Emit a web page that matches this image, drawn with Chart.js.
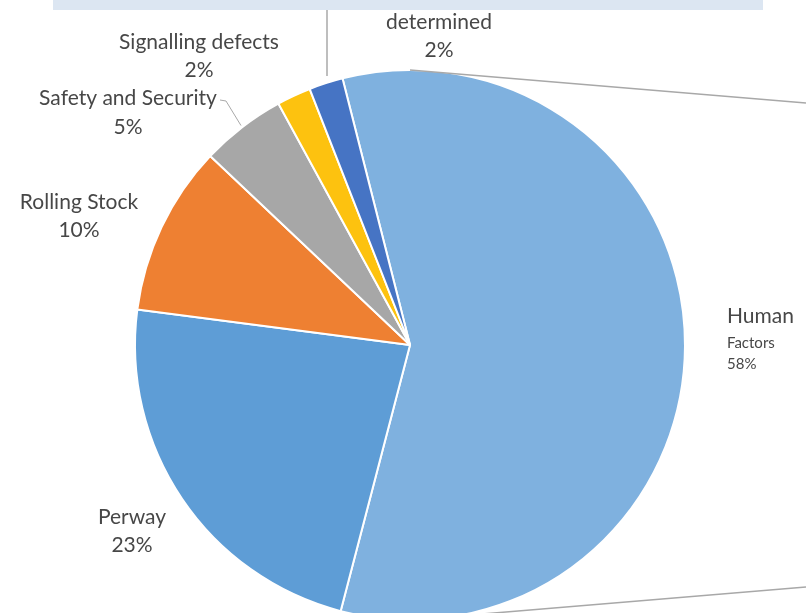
<!DOCTYPE html>
<html>
<head>
<meta charset="utf-8">
<title>Causes of incidents</title>
<script src="https://cdn.jsdelivr.net/npm/chart.js@4.4.1/dist/chart.umd.min.js"></script>
<style>
    html, body { margin: 0; padding: 0; background: #fff; overflow: hidden; }
    #wrap { position: relative; width: 806px; height: 613px; overflow: hidden; }
    #band { position: absolute; left: 53px; top: 0; width: 710px; height: 10px; background: #dce6f2; }
    #causeChart { position: absolute; left: 0; top: 0; }
</style>
</head>
<body>
<div id="wrap">
    <canvas id="causeChart" width="806" height="690"></canvas>
    <div id="band"></div>
</div>
<script>
// shares of incidents by cause (%)
const categories = ['Human Factors', 'Perway', 'Rolling Stock', 'Safety and Security', 'Signalling defects', 'Not determined'];
const shares = [58, 23, 10, 5, 2, 2];
const labelLines = [['Human', 'Factors'], ['Perway'], ['Rolling Stock'], ['Safety and Security'], ['Signalling defects'], ['determined']];

const sliceColors = ['#7fb1df', '#5e9dd6', '#ee8032', '#a7a7a7', '#fdc20f', '#4674c4'];
const textColor = '#474747';
const lineColor = '#a8a8a8';

// where each data label sits; rows are [offset y, font size]
const labelLayout = [
    { x: 727, y: 316, align: 'left', rows: [[0, 21], [27, 15], [48, 15]] },
    { x: 132, y: 517, align: 'center', rows: [[0, 21], [28, 21]] },
    { x: 79, y: 202, align: 'center', rows: [[0, 21], [28, 21]] },
    { x: 128, y: 98, align: 'center', rows: [[0, 21], [29, 21]] },
    { x: 199, y: 42, align: 'center', rows: [[0, 21], [28, 21]] },
    { x: 439, y: 22, align: 'center', rows: [[0, 21], [28, 21]] }
];

const pieExtras = {
    id: 'pieExtras',
    afterDraw(chart) {
        const ctx = chart.ctx;
        const arcs = chart.getDatasetMeta(0).data;
        if (!arcs.length) return;
        const cx = arcs[0].x, cy = arcs[0].y, r = arcs[0].outerRadius;
        const right = chart.width;

        ctx.save();
        ctx.strokeStyle = lineColor;
        ctx.lineWidth = 1.5;

        // connector lines leaving the pie towards the right
        ctx.beginPath();
        ctx.moveTo(cx, cy - r);
        ctx.lineTo(right, cy - 0.88 * r);
        ctx.moveTo(cx, cy + r);
        ctx.lineTo(right, cy + 0.88 * r);
        ctx.stroke();

        // thin rule down from the header band
        ctx.beginPath();
        ctx.moveTo(cx - 83, 10);
        ctx.lineTo(cx - 83, cy - r + 6);
        ctx.stroke();

        // leader for the safety label
        const safety = arcs[3];
        const mid = (safety.startAngle + safety.endAngle) / 2;
        ctx.lineWidth = 1;
        ctx.beginPath();
        ctx.moveTo(220, 100);
        ctx.lineTo(226, 101);
        ctx.lineTo(cx + Math.cos(mid) * (r + 2), cy + Math.sin(mid) * (r + 2));
        ctx.stroke();

        // data labels
        ctx.fillStyle = textColor;
        ctx.textBaseline = 'middle';
        labelLayout.forEach((spot, i) => {
            const rows = labelLines[i].concat([shares[i] + '%']);
            ctx.textAlign = spot.align;
            rows.forEach((txt, k) => {
                const [dy, size] = spot.rows[k];
                ctx.font = size + 'px Lato';
                ctx.fillText(txt, spot.x, spot.y + dy);
            });
        });
        ctx.restore();
    }
};

document.addEventListener('DOMContentLoaded', () => {
    const canvas = document.getElementById('causeChart');
    new Chart(canvas, {
        type: 'pie',
        data: {
            labels: categories,
            datasets: [{
                data: shares,
                backgroundColor: sliceColors,
                borderColor: '#ffffff',
                borderWidth: 2
            }]
        },
        options: {
            responsive: false,
            animation: false,
            rotation: -14.2,
            radius: 275,
            layout: { padding: { left: 135, right: 121, top: 70, bottom: 70 } },
            plugins: {
                legend: { display: false },
                tooltip: { enabled: false }
            }
        },
        plugins: [pieExtras]
    });
});
</script>
</body>
</html>
